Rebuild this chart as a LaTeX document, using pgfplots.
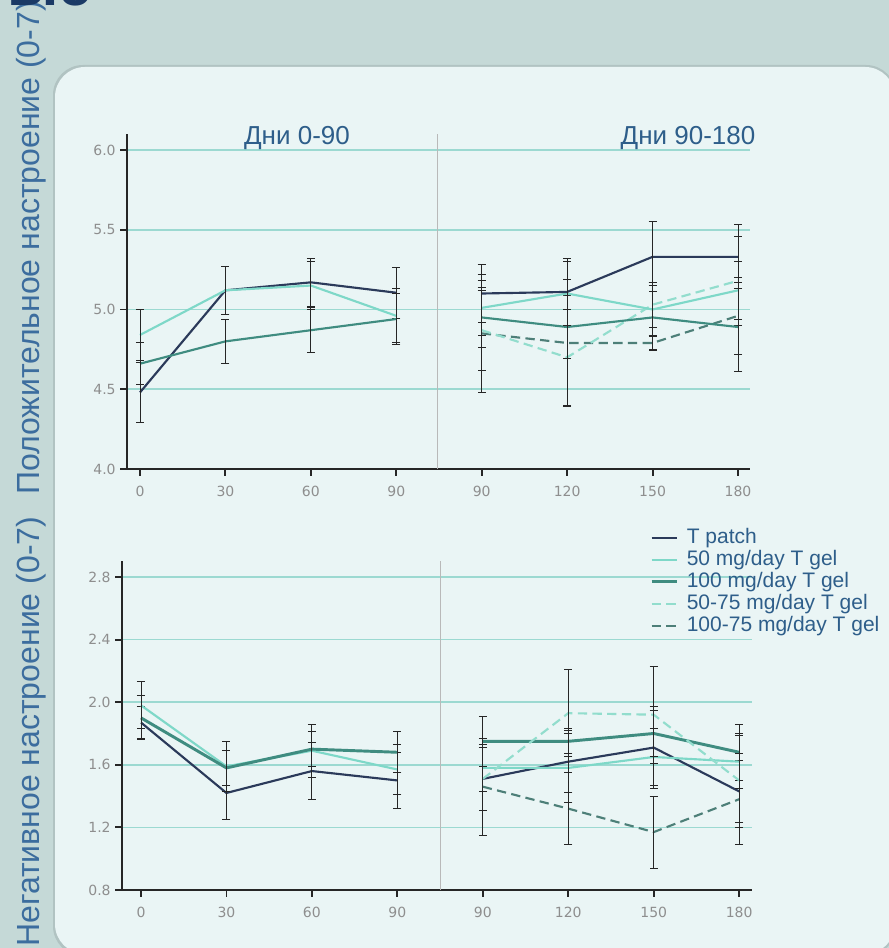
\documentclass[border=0pt]{standalone}
\usepackage{fontspec}
\setmainfont{Liberation Sans}
\newfontfamily\tickfont{DejaVu Sans}
\usepackage{pgfplots}
\pgfplotsset{compat=1.18}
\usepackage{pgfplotstable}

\definecolor{bgout}{HTML}{C5D9D7}
\definecolor{panel}{HTML}{EAF5F5}
\definecolor{tpatch}{HTML}{2B3A5A}
\definecolor{gelA}{HTML}{7ED8C8}
\definecolor{gelB}{HTML}{3F8C80}
\definecolor{gelC}{HTML}{92DDCD}
\definecolor{gelD}{HTML}{4D7F78}
\definecolor{gridc}{HTML}{9CD9D1}
\definecolor{titlec}{HTML}{2E5E8A}
\definecolor{vlab}{HTML}{3C6D9E}
\definecolor{logoc}{HTML}{1B3A66}
\definecolor{tickc}{HTML}{8E8E8E}

% Positive mood
\pgfplotstableread{
x y e
0 4.48 0.19
1 5.12 0.15
2 5.17 0.15
3 5.105 0.16
4 5.10 0.18
5 5.11 0.21
6 5.33 0.22
7 5.33 0.20
}\posT
\pgfplotstableread{
x y e
0 4.84 0.16
1 5.12 0.15
2 5.15 0.15
3 4.96 0.17
4 5.01 0.17
5 5.10 0.20
6 5.00 0.17
7 5.12 0.18
}\posA
\pgfplotstableread{
x y e
0 4.66 0.13
1 4.80 0.14
2 4.87 0.14
3 4.94 0.16
4 4.95 0.19
5 4.89 0.20
6 4.95 0.20
7 4.89 0.28
}\posB
\pgfplotstableread{
x y e
4 4.87 0.25
5 4.70 0.30
6 5.03 0.14
7 5.18 0.28
}\posC
\pgfplotstableread{
x y e
4 4.85 0.37
5 4.79 0.40
6 4.79 0.05
7 4.96 0.24
}\posD

% Negative mood
\pgfplotstableread{
x y e
0 1.87 0.10
1 1.42 0.17
2 1.56 0.18
3 1.50 0.18
4 1.51 0.20
5 1.62 0.20
6 1.71 0.26
7 1.43 0.20
}\negT
\pgfplotstableread{
x y e
0 1.98 0.15
1 1.59 0.16
2 1.69 0.17
3 1.57 0.16
4 1.58 0.15
5 1.58 0.22
6 1.65 0.18
7 1.62 0.17
}\negA
\pgfplotstableread{
x y e
0 1.90 0.14
1 1.58 0.11
2 1.70 0.11
3 1.68 0.13
4 1.75 0.16
5 1.75 0.08
6 1.80 0.15
7 1.68 0.18
}\negB
\pgfplotstableread{
x y e
4 1.51 0.20
5 1.93 0.28
6 1.92 0.31
7 1.50 0.30
}\negC
\pgfplotstableread{
x y e
4 1.46 0.31
5 1.32 0.23
6 1.17 0.23
7 1.38 0.29
}\negD

\pgfplotsset{
  mood/.style={
    scale only axis,
    axis x line*=bottom, axis y line*=left,
    axis line style={black!85, line width=1.5pt},
    xtick={0,...,7}, xticklabels={0,30,60,90,90,120,150,180},
    tick align=outside,
    major tick length=5pt,
    tick style={black!85, line width=1.4pt},
    ymajorgrids, grid style={gridc, line width=1.3pt},
    tick label style={font=\tickfont\fontsize{10.5}{12}\selectfont, text=tickc},
    xticklabel style={yshift=-4pt},
    /pgf/number format/assume math mode=true,
    yticklabel style={/pgf/number format/.cd, fixed, fixed zerofill, precision=1},
    clip=false,
    every axis plot/.append style={line width=1.6pt, mark=none},
    error bars/error bar style={black!85, line width=0.7pt, solid},
    error bars/error mark options={rotate=90, mark size=3pt, black!85, line width=0.7pt, solid},
  },
  eb/.style={error bars/y dir=both, error bars/y explicit},
  lft/.style={skip coords between index={4}{8}},
  rgt/.style={skip coords between index={0}{4}},
}

\begin{document}
\begin{tikzpicture}
\useasboundingbox (0,0) rectangle (666pt,711pt);
\begin{scope}[x=0.75pt,y=0.75pt]
  \fill[bgout] (-5,-5) rectangle (895,955);
  \fill[black!10!bgout, rounded corners=22.5pt] (53,-8) rectangle (896,883);
  \fill[panel, rounded corners=22.5pt] (55,-6) rectangle (895,881);
\end{scope}

% ---------- Top axis: positive mood ----------
\begin{axis}[mood,
  at={(95.25pt,359.25pt)}, anchor=south west,
  width=467.25pt, height=251.25pt,
  xmin=-0.152, xmax=7.14, ymin=4.0, ymax=6.1,
  ytick={4.0,4.5,5.0,5.5,6.0},
]
\draw[gray!55, line width=0.6pt] (axis cs:3.48,4.0) -- (axis cs:3.48,6.1);
\addplot[tpatch, eb] table[x=x,y=y,y error=e,lft]{\posT};
\addplot[gelA, eb] table[x=x,y=y,y error=e,lft]{\posA};
\addplot[gelB, eb] table[x=x,y=y,y error=e,lft]{\posB};
\addplot[gelD, dash pattern=on 7pt off 4pt, eb] table[x=x,y=y,y error=e]{\posD};
\addplot[gelC, dash pattern=on 7pt off 4pt, eb] table[x=x,y=y,y error=e]{\posC};
\addplot[gelB, eb] table[x=x,y=y,y error=e,rgt]{\posB};
\addplot[gelA, eb] table[x=x,y=y,y error=e,rgt]{\posA};
\addplot[tpatch, eb] table[x=x,y=y,y error=e,rgt]{\posT};
\end{axis}

% ---------- Bottom axis: negative mood ----------
\begin{axis}[mood,
  at={(91.5pt,43.5pt)}, anchor=south west,
  width=472.5pt, height=246.5pt,
  xmin=-0.222, xmax=7.15, ymin=0.8, ymax=2.9,
  ytick={0.8,1.2,1.6,2.0,2.4,2.8},
  legend style={at={(0.838,1.106)}, anchor=north west, draw=none, fill=none,
    font=\fontsize{15.75}{17}\selectfont, text=titlec,
    cells={anchor=west}, row sep=0pt, inner sep=0pt,
    nodes={inner sep=0.5pt, text depth=3.5pt, text height=12pt},
    /tikz/every odd column/.append style={column sep=6pt}},
  legend image code/.code={\draw[#1] (0pt,0pt) -- (18.75pt,0pt);},
]
\draw[gray!55, line width=0.6pt] (axis cs:3.5,0.8) -- (axis cs:3.5,2.9);
\addplot[tpatch, eb] table[x=x,y=y,y error=e,rgt]{\negT};
\addlegendentry{T patch}
\addplot[gelA, eb] table[x=x,y=y,y error=e,rgt]{\negA};
\addlegendentry{50 mg/day T gel}
\addplot[gelB, line width=2.2pt, eb] table[x=x,y=y,y error=e,rgt]{\negB};
\addlegendentry{100 mg/day T gel}
\addplot[gelC, dash pattern=on 7pt off 4pt, eb] table[x=x,y=y,y error=e]{\negC};
\addlegendentry{50-75 mg/day T gel}
\addplot[gelD, dash pattern=on 7pt off 4pt, eb] table[x=x,y=y,y error=e]{\negD};
\addlegendentry{100-75 mg/day T gel}
\addplot[tpatch, forget plot, eb] table[x=x,y=y,y error=e,lft]{\negT};
\addplot[gelA, forget plot, eb] table[x=x,y=y,y error=e,lft]{\negA};
\addplot[gelB, line width=2.2pt, forget plot, eb] table[x=x,y=y,y error=e,lft]{\negB};
\end{axis}

\begin{scope}[x=0.75pt,y=0.75pt]
  \node[anchor=base, text=titlec, font=\fontsize{19.5}{22}\selectfont, inner sep=0pt] at (297,803) {Дни 0-90};
  \node[anchor=base, text=titlec, font=\fontsize{19.5}{22}\selectfont, inner sep=0pt] at (688,803) {Дни 90-180};
  \node[anchor=base west, rotate=90, text=vlab, font=\fontsize{24}{28}\selectfont, inner sep=0pt] at (39,453) {Положительное настроение (0-7)};
  \node[anchor=base west, rotate=90, text=vlab, font=\fontsize{24}{28}\selectfont, inner sep=0pt] at (39,1) {Негативное настроение (0-7)};
  \node[anchor=base east, text=logoc, font=\bfseries\fontsize{45}{50}\selectfont, inner sep=0pt] at (92,942) {ые};
\end{scope}
\end{tikzpicture}
\end{document}
